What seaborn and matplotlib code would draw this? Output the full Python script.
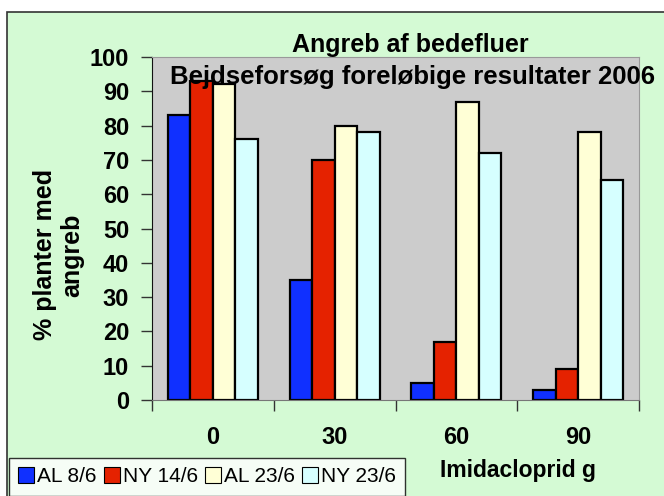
import pandas as pd
import matplotlib
matplotlib.use('Agg')
import matplotlib.pyplot as plt
import seaborn as sns
from matplotlib.patches import Rectangle, Patch
from matplotlib.ticker import FixedLocator

# --- data ---
doses = ['0', '30', '60', '90']
series = ['AL 8/6', 'NY 14/6', 'AL 23/6', 'NY 23/6']
al_8_6 = [83, 35, 5, 3]
ny_14_6 = [93, 70, 17, 9]
al_23_6 = [92, 80, 87, 78]
ny_23_6 = [76, 78, 72, 64]
colors = ['#1030FF', '#E52200', '#FFFFD6', '#D6FFFF']

df = pd.DataFrame({
    'dose': doses * 4,
    'serie': [s for s in series for _ in doses],
    'pct': al_8_6 + ny_14_6 + al_23_6 + ny_23_6,
})

sns.set_style('white')
plt.rcParams['font.family'] = ['Liberation Sans', 'DejaVu Sans']
plt.rcParams['text.color'] = 'black'
plt.rcParams['axes.labelcolor'] = 'black'
plt.rcParams['xtick.color'] = 'black'
plt.rcParams['ytick.color'] = 'black'

W, H = 664, 496
fig = plt.figure(figsize=(W / 100, H / 100), dpi=100)
fig.patch.set_facecolor('white')
# chart area background with border
bg = Rectangle((7 / W, -0.01), 1.0, (H - 12) / H + 0.01, transform=fig.transFigure,
               facecolor='#D4FAD4', edgecolor='#333333', linewidth=1.2, zorder=-10)
fig.patches.append(bg)

ax = fig.add_axes([152 / W, (H - 400) / H, (639 - 152) / W, (400 - 57) / H])
sns.barplot(data=df, x='dose', y='pct', hue='serie', hue_order=series, order=doses,
            palette=colors, width=0.74, edgecolor='black', linewidth=1.6,
            saturation=1, ax=ax, legend=False)
ax.set_facecolor('#CCCCCC')
ax.set_xlim(-0.5, 3.5)
ax.set_ylim(0, 100)
ax.set_yticks(range(0, 101, 10))
ax.tick_params(axis='y', direction='out', length=8, width=1, color='#333333',
               labelsize=17, pad=8.5, left=True)
ax.tick_params(axis='x', which='major', length=0, labelsize=17, pad=18.5)
ax.xaxis.set_minor_locator(FixedLocator([-0.5, 0.5, 1.5, 2.5, 3.5]))
ax.tick_params(axis='x', which='minor', direction='out', length=8, width=1, color='#333333', bottom=True)
for lab in ax.get_xticklabels() + ax.get_yticklabels():
    lab.set_fontweight('bold')
for s in ['top', 'right']:
    ax.spines[s].set_color('#999999')
ax.spines['bottom'].set_color('#777777')
ax.spines['left'].set_color('#111111')
ax.set_xlabel('')
ax.set_ylabel('% planter med\nangreb', fontsize=18, fontweight='bold', linespacing=1.2)
ax.yaxis.set_label_coords(-0.139, 0.423)

fig.text(410 / W, 1 - 45 / H, 'Angreb af bedefluer', ha='center', va='center',
         fontsize=18, fontweight='bold')
fig.text(412 / W, 1 - 77 / H, 'Bejdseforsøg foreløbige resultater 2006', ha='center', va='center',
         fontsize=18.5, fontweight='bold')
fig.text(518 / W, 1 - 470 / H, 'Imidacloprid g', ha='center', va='center',
         fontsize=16.5, fontweight='bold')

handles = [Patch(facecolor=c, edgecolor='black', linewidth=0.8) for c in colors]
leg = fig.legend(handles, series, loc='upper left', bbox_to_anchor=(9 / W, 1 - 458 / H), ncol=4,
                 fontsize=15, frameon=True, fancybox=False, handlelength=0.75, handleheight=0.75,
                 handletextpad=0.15, columnspacing=0.35, borderpad=0.45, borderaxespad=0)
leg.get_frame().set_edgecolor('black')
leg.get_frame().set_facecolor('white')
leg.get_frame().set_linewidth(1.0)

fig.savefig('out.png', dpi=100, facecolor=fig.get_facecolor())
